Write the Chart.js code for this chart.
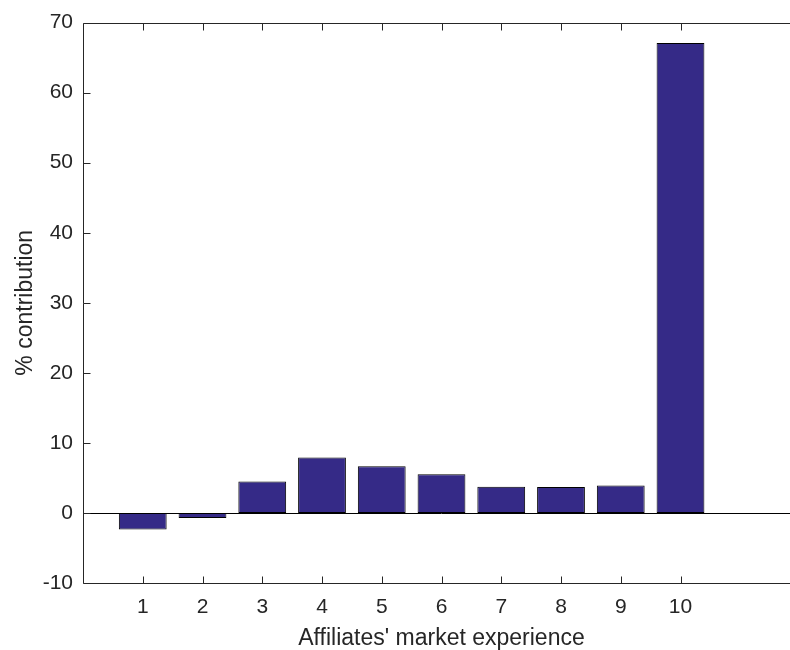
<!DOCTYPE html>
<html>
<head>
<meta charset="utf-8">
<title>% contribution by affiliates' market experience</title>
<script src="https://cdn.jsdelivr.net/npm/chart.js@4"></script>
<style>
    html, body { margin: 0; padding: 0; background: #fff; overflow: hidden; }
    #wrap { width: 800px; height: 650px; }
</style>
</head>
<body>
<div id="wrap"><canvas id="barChart"></canvas></div>
<script>
// values
const categories = [1, 2, 3, 4, 5, 6, 7, 8, 9, 10];
const contributions = [-2.37, -0.71, 4.49, 7.9, 6.68, 5.54, 3.74, 3.69, 3.92, 67.1];
const yTicks = [-10, 0, 10, 20, 30, 40, 50, 60, 70];
const xTicks = categories;

const axisColor = '#262626';
const barColor = '#352a87';
const tickFont = { family: "'Liberation Sans', Arial, sans-serif", size: 21 };
const labelFont = { family: "'Liberation Sans', Arial, sans-serif", size: 23 };

// box, inward ticks and zero baseline, all placed through the scales
const matlabAxes = {
    id: 'matlabAxes',
    afterDatasetsDraw(chart) {
        const ctx = chart.ctx;
        const area = chart.chartArea;
        const x = chart.scales.x;
        const y = chart.scales.y;
        const px = v => Math.round(v) + 0.5;
        const tickLen = 7;

        ctx.save();
        ctx.lineWidth = 1;

        // baseline at y = 0
        ctx.strokeStyle = '#000';
        ctx.beginPath();
        ctx.moveTo(area.left, px(y.getPixelForValue(0)));
        ctx.lineTo(area.right, px(y.getPixelForValue(0)));
        ctx.stroke();

        ctx.strokeStyle = axisColor;
        ctx.beginPath();
        // box
        ctx.moveTo(px(area.left), px(area.top));
        ctx.lineTo(px(area.right), px(area.top));
        ctx.moveTo(px(area.left), px(area.top));
        ctx.lineTo(px(area.left), px(area.bottom));
        ctx.moveTo(px(area.left), px(area.bottom));
        ctx.lineTo(px(area.right), px(area.bottom));
        // x ticks, bottom and top
        xTicks.forEach(v => {
            const xp = px(x.getPixelForValue(v));
            ctx.moveTo(xp, px(area.bottom));
            ctx.lineTo(xp, px(area.bottom) - tickLen);
            ctx.moveTo(xp, px(area.top));
            ctx.lineTo(xp, px(area.top) + tickLen);
        });
        // y ticks on the left
        yTicks.forEach(v => {
            const yp = px(y.getPixelForValue(v));
            ctx.moveTo(px(area.left), yp);
            ctx.lineTo(px(area.left) + tickLen, yp);
        });
        ctx.stroke();
        ctx.restore();
    }
};

new Chart(document.getElementById('barChart'), {
    type: 'bar',
    data: {
        datasets: [{
            label: '% contribution',
            data: categories.map((c, i) => ({ x: c, y: contributions[i] })),
            backgroundColor: barColor,
            borderColor: '#000',
            borderWidth: 1,
            borderSkipped: false,
            categoryPercentage: 0.8,
            barPercentage: 1
        }]
    },
    options: {
        responsive: true,
        maintainAspectRatio: false,
        animation: false,
        layout: { padding: { top: 20, right: 0, left: 0, bottom: 0 } },
        plugins: {
            legend: { display: false },
            tooltip: { enabled: false }
        },
        scales: {
            x: {
                type: 'linear',
                min: 0,
                max: 12,
                offset: false,
                grid: { display: false, drawTicks: false },
                border: { display: false },
                afterBuildTicks: scale => { scale.ticks = xTicks.map(v => ({ value: v })); },
                afterFit: scale => { scale.height = 67; },
                ticks: {
                    color: axisColor,
                    font: tickFont,
                    padding: 12,
                    maxRotation: 0,
                    autoSkip: false,
                    callback: v => String(v)
                },
                title: {
                    display: true,
                    text: "Affiliates' market experience",
                    color: axisColor,
                    font: labelFont,
                    padding: { top: 0, bottom: -2 }
                }
            },
            y: {
                min: -10,
                max: 70,
                grid: { display: false, drawTicks: false },
                border: { display: false },
                afterBuildTicks: scale => { scale.ticks = yTicks.map(v => ({ value: v })); },
                afterFit: scale => { scale.width = 83; },
                ticks: {
                    color: axisColor,
                    font: tickFont,
                    padding: 10,
                    callback: v => String(v)
                },
                title: {
                    display: true,
                    text: '% contribution',
                    color: axisColor,
                    font: labelFont,
                    padding: { top: 12, bottom: 0 }
                }
            }
        }
    },
    plugins: [matlabAxes]
});
</script>
</body>
</html>
